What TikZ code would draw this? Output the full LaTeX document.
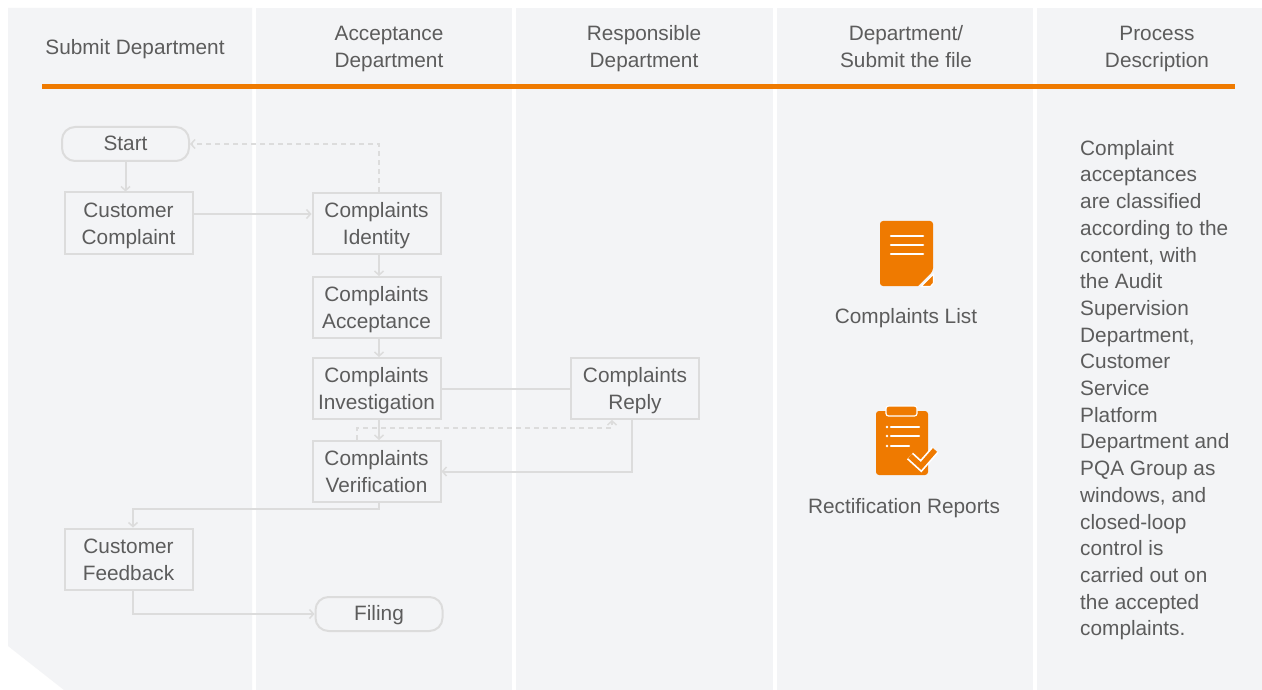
\documentclass[tikz,border=0pt]{standalone}
\usepackage{fontspec}
\setmainfont{Liberation Sans}
\usetikzlibrary{arrows.meta}
\definecolor{panel}{HTML}{F3F4F6}
\definecolor{flow}{HTML}{DCDCDC}
\definecolor{txt}{HTML}{5C5C5C}
\definecolor{brand}{HTML}{EF7A00}
\newcommand\lnstrut{\rule[-6.6pt]{0pt}{27pt}}
\newcommand\topstrut{\rule[-6.6pt]{0pt}{29pt}}
\tikzset{
  lbl/.style={font=\fontsize{20.8}{27}\selectfont, text=txt, align=center, inner sep=0pt,
    execute at end node=\lnstrut},
  box/.style={lbl, draw=flow, line width=2pt, minimum width=128pt, minimum height=61pt},
  term/.style={lbl, draw=flow, line width=2pt, minimum width=127pt, minimum height=34pt, rounded corners=13pt},
  ln/.style={draw=flow, line width=2pt},
  arr/.style={ln, -{Straight Barb[length=4pt,width=9pt,line width=1.5pt]}},
  dsh/.style={ln, dash pattern=on 5pt off 4pt},
  darr/.style={dsh, -{Straight Barb[length=4pt,width=9pt,line width=1.5pt]}},
}
\begin{document}
\begin{tikzpicture}[x=1pt,y=-1pt]
\useasboundingbox (0,0) rectangle (1262,690);
\fill[white] (0,0) rectangle (1262,690);
% panels
\fill[panel] (8,8) -- (252,8) -- (252,690) -- (64,690) -- (8,646) -- cycle;
\fill[panel] (256,8) rectangle (512,690);
\fill[panel] (516,8) rectangle (773,690);
\fill[panel] (777,8) rectangle (1033,690);
\fill[panel] (1037,8) rectangle (1262,690);
% header line
\fill[brand] (42,84) rectangle (1235,89);
% headers
\node[lbl] (h1) at (135,47.5) {\lnstrut Submit Department};
\node[lbl] (h2) at (389,47.5) {\lnstrut Acceptance\\Department};
\node[lbl] (h3) at (644,47.5) {\lnstrut Responsible\\Department};
\node[lbl] (h4) at (906,47.5) {\lnstrut Department/\\Submit the file};
\node[lbl] (h5) at (1157,47.5) {\lnstrut Process\\Description};
% flow nodes
\node[term] (start) at (125.5,144) {\lnstrut Start};
\node[box] (cc) at (128.5,223) {\topstrut Customer\\Complaint};
\node[box] (ci) at (376.5,223.5) {\topstrut Complaints\\Identity};
\node[box] (ca) at (376.5,307.5) {\topstrut Complaints\\Acceptance};
\node[box] (inv) at (376.5,388.5) {\topstrut Complaints\\Investigation};
\node[box] (rep) at (635,388.5) {\topstrut Complaints\\Reply};
\node[box] (ver) at (376.5,471.5) {\topstrut Complaints\\Verification};
\node[box] (cf) at (128.5,559) {\topstrut Customer\\Feedback};
\node[term] (fil) at (379,614) {\lnstrut Filing};
% connectors
\draw[arr] (start.south) -- (start.south |- cc.north);
\draw[arr] ([yshift=9pt]cc.east) -- ([yshift=9pt]cc.east -| ci.west);
\draw[darr] ([xshift=2.5pt]ci.north) |- (start.east);
\draw[arr] ([xshift=2.5pt]ci.south) -- ([xshift=2.5pt]ca.north);
\draw[arr] ([xshift=2.5pt]ca.south) -- ([xshift=2.5pt]inv.north);
\draw[arr] ([xshift=2.5pt]inv.south) -- ([xshift=2.5pt]ver.north);
\draw[ln] (inv.east) -- (rep.west);
\draw[arr] ([xshift=-3pt]rep.south) |- (ver.east);
\draw[darr] ([xshift=-19.5pt]ver.north) -- ++(0,-12) -| ([xshift=-23pt]rep.south);
\draw[arr] ([xshift=2.5pt]ver.south) -- ++(0,6) -| ([xshift=4.5pt]cf.north);
\draw[arr] ([xshift=4.5pt]cf.south) |- (fil.west);
% document icon
\fill[brand, rounded corners=3pt] (880,221) -- (933,221) -- (933,271) [sharp corners] -- (918,286) [rounded corners=3pt] -- (880,286) -- cycle;
\filldraw[fill=brand, draw=white, line width=1.2pt, line join=round] (921,286.5) -- (933.5,274) -- (933.5,283) -- (930.5,286.5) -- cycle;
\foreach \yy in {236,245,254} \draw[white, line width=2.5pt, line cap=round] (891,\yy) -- (923,\yy);
\node[lbl] (doc) at (906,317) {\lnstrut Complaints List};
% clipboard icon
\fill[brand, rounded corners=3pt] (876,411) rectangle (928,475);
\filldraw[fill=brand, draw=white, line width=1.2pt, rounded corners=2.5pt] (886,406) rectangle (917,416);
\foreach \yy in {427,436,446} \fill[white] (887,\yy) circle (1.4pt);
\draw[white, line width=2.2pt, line cap=round] (891,427) -- (919,427);
\draw[white, line width=2.2pt, line cap=round] (891,436) -- (919,436);
\draw[white, line width=2.2pt, line cap=round] (891,446) -- (909,446);
\draw[white, line width=9pt, line join=miter] (910,456) -- (921,466) -- (935,450);
\draw[brand, line width=5.5pt, line join=miter] (910,456) -- (921,466) -- (935,450);
\node[lbl] (rr) at (904,507) {\lnstrut Rectification Reports};
% description
\node[lbl, align=left, anchor=north west, font=\fontsize{20.8}{26.7}\selectfont] (desc) at (1080,134.6) {\lnstrut Complaint\\acceptances\\are classified\\according to the\\content, with\\the Audit\\Supervision\\Department,\\Customer\\Service\\Platform\\Department and\\PQA Group as\\windows, and\\closed-loop\\control is\\carried out on\\the accepted\\complaints.};
\end{tikzpicture}
\end{document}
